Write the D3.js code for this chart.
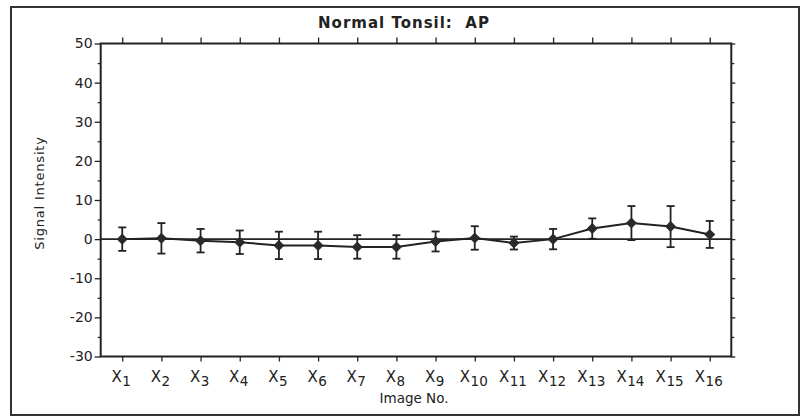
<!DOCTYPE html>
<html>
<head>
<meta charset="utf-8">
<script src="https://cdn.jsdelivr.net/npm/d3@7"></script>
<style>
  html, body { margin: 0; padding: 0; background: #fff; }
  svg { display: block; }
  text { font-family: "DejaVu Sans", sans-serif; fill: #222; }
</style>
</head>
<body>
<svg id="chart" width="804" height="417"></svg>
<script>
// ---- data ----
const categories = ["1","2","3","4","5","6","7","8","9","10","11","12","13","14","15","16"];
const means  = [0.0, 0.2, -0.4, -0.8, -1.6, -1.6, -2.0, -2.0, -0.6, 0.3, -1.0, 0.0, 2.7, 4.1, 3.2, 1.2];
const errors = [3.0, 3.9, 3.0, 3.0, 3.5, 3.5, 3.0, 3.0, 2.55, 3.0, 1.65, 2.6, 2.6, 4.35, 5.25, 3.45];
const yMajorTicks = [-30, -20, -10, 0, 10, 20, 30, 40, 50];
const yMinorTicks = [-25, -15, -5, 5, 15, 25, 35, 45];
const titleText = "Normal Tonsil:  AP";
const yLabel = "Signal Intensity";
const xLabel = "Image No.";

// ---- layout ----
const svg = d3.select("#chart");
const L = 100.7, R = 731.3, T = 43.5, B = 356.5;
const ink = "#222";

const x = d3.scalePoint().domain(categories).range([L, R]).padding(0.55);
const y = d3.scaleLinear().domain([-30, 50]).range([B, T]);

// outer frame
svg.append("rect").attr("x", 11).attr("y", 7).attr("width", 788).attr("height", 408)
  .attr("fill", "none").attr("stroke", "#333").attr("stroke-width", 2);

// title
svg.append("text").attr("x", 404).attr("y", 27.5).attr("text-anchor", "middle")
  .attr("font-size", 15).attr("font-weight", 600).attr("letter-spacing", 1)
  .style("white-space", "pre").attr("xml:space", "preserve")
  .text(titleText);

// left axis: major ticks with labels
const leftAxis = d3.axisLeft(y).tickValues(yMajorTicks).tickSize(6).tickPadding(2)
  .tickFormat(d => String(d));
const gL = svg.append("g").attr("transform", `translate(${L},0)`).call(leftAxis);
gL.select(".domain").remove();
gL.selectAll(".tick line").attr("stroke", ink).attr("stroke-width", 1.3);
gL.selectAll(".tick text").attr("font-size", 14).attr("fill", "#333")
  .attr("font-family", "DejaVu Sans, sans-serif");
// left minor ticks
svg.append("g").attr("transform", `translate(${L},0)`)
  .call(d3.axisLeft(y).tickValues(yMinorTicks).tickSize(3).tickFormat(""))
  .call(g => g.select(".domain").remove())
  .selectAll(".tick line").attr("stroke", ink).attr("stroke-width", 1.3);

// right axis ticks (no labels)
svg.append("g").attr("transform", `translate(${R},0)`)
  .call(d3.axisRight(y).tickValues(yMajorTicks).tickSize(4).tickFormat(""))
  .call(g => g.select(".domain").remove())
  .selectAll(".tick line").attr("stroke", ink).attr("stroke-width", 1.3);
svg.append("g").attr("transform", `translate(${R},0)`)
  .call(d3.axisRight(y).tickValues(yMinorTicks).tickSize(3).tickFormat(""))
  .call(g => g.select(".domain").remove())
  .selectAll(".tick line").attr("stroke", ink).attr("stroke-width", 1.3);

// bottom axis ticks
const gB = svg.append("g").attr("transform", `translate(0,${B})`)
  .call(d3.axisBottom(x).tickSize(5).tickFormat(""));
gB.select(".domain").remove();
gB.selectAll(".tick line").attr("stroke", ink).attr("stroke-width", 1.3);
// top axis ticks
const gT = svg.append("g").attr("transform", `translate(0,${T})`)
  .call(d3.axisTop(x).tickSize(6).tickFormat(""));
gT.select(".domain").remove();
gT.selectAll(".tick line").attr("stroke", ink).attr("stroke-width", 1.3);

// plot box
svg.append("rect").attr("x", L).attr("y", T).attr("width", R - L).attr("height", B - T)
  .attr("fill", "none").attr("stroke", ink).attr("stroke-width", 2);

// x tick labels with subscripts
const xl = svg.append("g").selectAll("text").data(categories).join("text")
  .attr("x", d => x(d) - 1).attr("y", 381.5).attr("text-anchor", "middle")
  .attr("font-size", 15).attr("fill", "#333");
xl.append("tspan").text("X");
xl.append("tspan").attr("dy", 4).attr("dx", 0.5).attr("font-size", 13.5).text(d => d);

// axis titles
svg.append("text").attr("x", 414).attr("y", 403).attr("text-anchor", "middle")
  .attr("font-size", 13.5).attr("fill", "#333").text(xLabel);
svg.append("text").attr("transform", `translate(44,${193}) rotate(-90)`)
  .attr("text-anchor", "middle").attr("font-size", 13).attr("letter-spacing", 0.8)
  .attr("fill", "#333").text(yLabel);

// zero reference line
svg.append("line").attr("x1", L).attr("x2", R).attr("y1", y(0)).attr("y2", y(0))
  .attr("stroke", ink).attr("stroke-width", 1.6);

// data
const pts = categories.map((c, i) => ({c, m: means[i], e: errors[i]}));

// connecting line
svg.append("path").datum(pts)
  .attr("d", d3.line().x(d => x(d.c)).y(d => y(d.m)))
  .attr("fill", "none").attr("stroke", ink).attr("stroke-width", 2);

// error bars
const eb = svg.append("g").attr("stroke", ink).attr("stroke-width", 1.8);
eb.selectAll("line.v").data(pts).join("line").attr("class", "v")
  .attr("x1", d => x(d.c)).attr("x2", d => x(d.c))
  .attr("y1", d => y(d.m + d.e)).attr("y2", d => y(d.m - d.e));
eb.selectAll("line.t").data(pts).join("line").attr("class", "t")
  .attr("x1", d => x(d.c) - 4).attr("x2", d => x(d.c) + 4)
  .attr("y1", d => y(d.m + d.e)).attr("y2", d => y(d.m + d.e));
eb.selectAll("line.b").data(pts).join("line").attr("class", "b")
  .attr("x1", d => x(d.c) - 4).attr("x2", d => x(d.c) + 4)
  .attr("y1", d => y(d.m - d.e)).attr("y2", d => y(d.m - d.e));

// markers (diamonds)
svg.append("g").selectAll("path").data(pts).join("path")
  .attr("transform", d => `translate(${x(d.c)},${y(d.m)}) rotate(45)`)
  .attr("d", d3.symbol().type(d3.symbolSquare).size(46))
  .attr("fill", "#2a2a2a").attr("stroke", "#2a2a2a").attr("stroke-width", 1);
</script>
</body>
</html>
